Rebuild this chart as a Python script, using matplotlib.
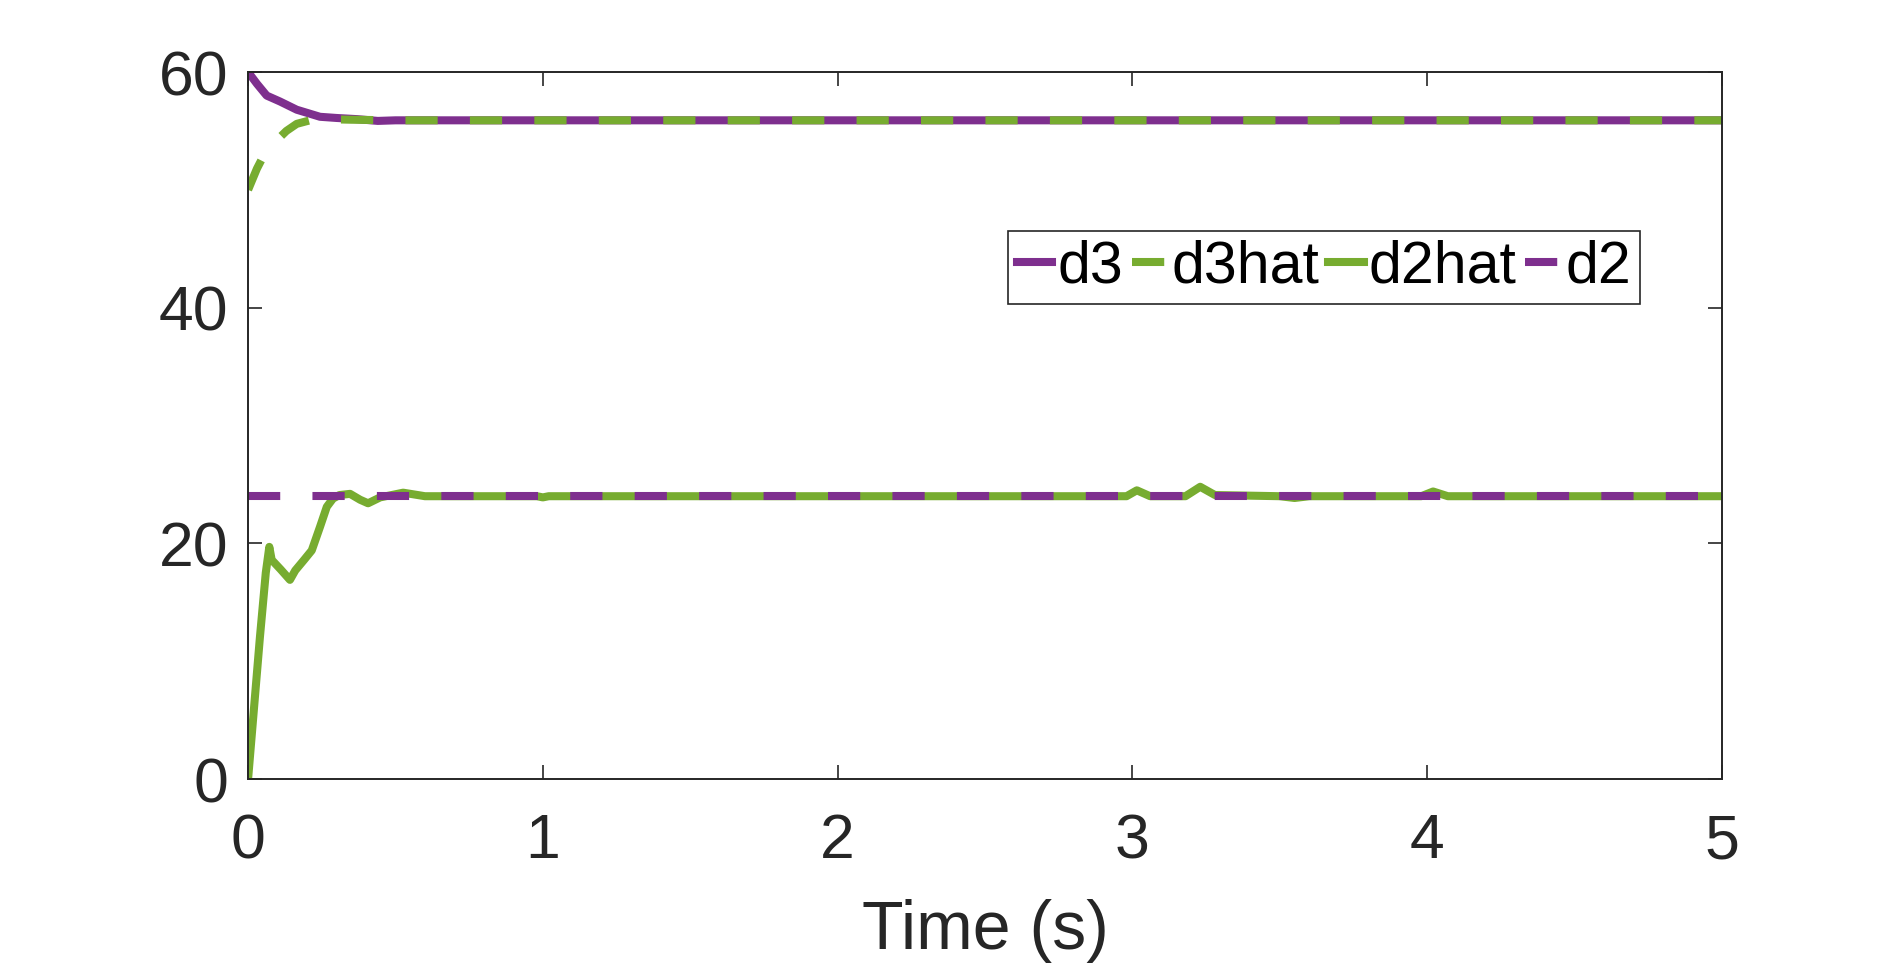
import numpy as np
import matplotlib.pyplot as plt

# colours (MATLAB default order 4 and 5)
purple = '#7E2F8E'
green = '#77AC30'

# d3 : true value (solid purple)
t_d3 = [0, 0.03, 0.063, 0.108, 0.165, 0.244, 0.3, 0.37, 0.44, 0.5, 1.0, 2.0, 3.0, 4.0, 5.0]
d3 = [60, 59.0, 58.0, 57.5, 56.8, 56.2, 56.1, 56.0, 55.85, 55.9, 55.9, 55.9, 55.9, 55.9, 55.9]

# d3hat : estimate (dashed green)
t_d3hat = [0, 0.03, 0.065, 0.097, 0.13, 0.165, 0.21, 0.26, 0.35, 0.5, 1.0, 2.0, 3.0, 4.0, 5.0]
d3hat = [50, 51.8, 53.5, 54.2, 55.0, 55.6, 55.9, 56.0, 55.95, 55.9, 55.9, 55.9, 55.9, 55.9, 55.9]

# d2hat : estimate (solid green)
t_d2hat = [0, 0.02, 0.04, 0.06, 0.072, 0.08, 0.11, 0.142, 0.16, 0.19, 0.216, 0.244, 0.267,
           0.288, 0.31, 0.346, 0.38, 0.407, 0.448, 0.526, 0.6, 0.98, 1.0, 1.02, 2.98, 3.015,
           3.06, 3.18, 3.23, 3.28, 3.5, 3.55, 3.6, 3.98, 4.02, 4.07, 5.0]
d2hat = [0, 6.0, 12.0, 17.5, 19.7, 18.6, 17.8, 16.9, 17.7, 18.6, 19.4, 21.4, 23.1,
         23.8, 24.1, 24.2, 23.7, 23.4, 23.9, 24.3, 24.0, 24.0, 23.9, 24.0, 24.0, 24.5,
         24.0, 24.0, 24.8, 24.1, 24.0, 23.85, 24.0, 24.0, 24.4, 24.0, 24.0]

# d2 : true value (dashed purple)
t_d2 = [0, 5.0]
d2 = [24, 24]

fig = plt.figure(figsize=(19.04, 9.64), dpi=100)
ax = fig.add_axes([0.1303, 0.1919, 0.9044 - 0.1303, 0.9253 - 0.1919])

lw = 5.8
ax.plot(t_d3, d3, color=purple, lw=lw, label='d3')
ax.plot(t_d3hat, d3hat, color=green, lw=lw, dashes=(4, 4), dash_capstyle='butt', label='d3hat')
ax.plot(t_d2hat, d2hat, color=green, lw=lw, label='d2hat')
ax.plot(t_d2, d2, color=purple, lw=lw, dashes=(4, 4), dash_capstyle='butt', label='d2')

ax.set_xlim(0, 5)
ax.set_ylim(0, 60)
ax.set_xticks([0, 1, 2, 3, 4, 5])
ax.set_yticks([0, 20, 40, 60])

dark = '#262626'
for s in ax.spines.values():
    s.set_color(dark)
    s.set_linewidth(1.4)
ax.tick_params(direction='in', length=10, width=1.2, colors=dark, labelsize=45,
               top=True, right=True)
ax.tick_params(axis='x', pad=24)
ax.tick_params(axis='y', pad=14)
for lab in ax.get_xticklabels() + ax.get_yticklabels():
    lab.set_fontfamily('Liberation Sans')
ax.set_xlabel('Time (s)', fontsize=49, color=dark, fontfamily='Liberation Sans', labelpad=20)

leg = ax.legend(ncol=4, loc='upper left', bbox_to_anchor=(0.5156, 0.775),
                prop={'family': 'Liberation Sans', 'size': 42.5},
                handlelength=0.6, handletextpad=0.08, columnspacing=0.15,
                borderpad=0.15, borderaxespad=0, fancybox=False, framealpha=1)
leg.get_frame().set_edgecolor(dark)
leg.get_frame().set_linewidth(1.2)

fig.savefig('out.png', dpi=100)
